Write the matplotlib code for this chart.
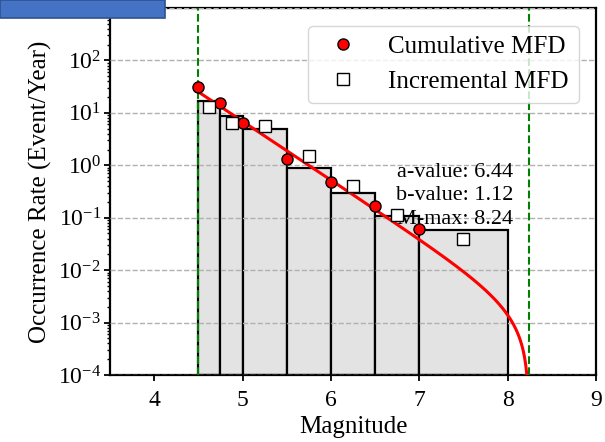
import numpy as np
import matplotlib
matplotlib.use('Agg')
import matplotlib.pyplot as plt
from matplotlib.patches import Rectangle

# ---- data ----
bin_edges = [4.5, 4.75, 5.0, 5.5, 6.0, 6.5, 7.0, 8.0]
bar_rates = [17.2, 8.9, 4.9, 0.88, 0.29, 0.109, 0.058]

cum_mag = [4.5, 4.75, 5.0, 5.5, 6.0, 6.5, 7.0]
cum_rate = [31.0, 15.3, 6.35, 1.34, 0.47, 0.167, 0.060]

inc_mag = [4.625, 4.875, 5.25, 5.75, 6.25, 6.75, 7.5]
inc_rate = [12.9, 6.5, 5.5, 1.53, 0.41, 0.112, 0.040]

a_value = 6.44
b_value = 1.12
m_min = 4.5
m_max = 8.24

x_ticks = [4, 5, 6, 7, 8, 9]

# ---- style ----
plt.rcParams['font.family'] = ['Liberation Serif', 'DejaVu Serif']
plt.rcParams['mathtext.fontset'] = 'custom'
plt.rcParams['mathtext.rm'] = 'Liberation Serif'
plt.rcParams['mathtext.it'] = 'Liberation Serif:italic'

fig = plt.figure(figsize=(6.05, 4.42), dpi=100)
ax = fig.add_axes([110/605, 1 - 375/442, 486/605, 367/442])

# incremental bars
lefts = bin_edges[:-1]
widths = [bin_edges[i + 1] - bin_edges[i] for i in range(len(lefts))]
ax.bar(lefts, bar_rates, width=widths, align='edge', bottom=1e-4,
       color='#e3e3e3', edgecolor='black', linewidth=1.6, zorder=1)

# truncated Gutenberg-Richter curve from the displayed parameters
m = np.linspace(m_min, m_max, 600)[:-1]
n_fit = 10 ** (a_value - b_value * m) - 10 ** (a_value - b_value * m_max)
ax.plot(m, n_fit, color='red', linewidth=2.2, zorder=3)

# bounds
ax.axvline(m_min, color='green', linestyle='--', linewidth=1.5, zorder=2.6)
ax.axvline(m_max, color='green', linestyle='--', linewidth=1.5, zorder=2.6)

ax.plot(cum_mag, cum_rate, 'o', color='red', markeredgecolor='black',
        markersize=8, markeredgewidth=1.0, linestyle='none',
        label='Cumulative MFD', zorder=5)
ax.plot(inc_mag, inc_rate, 's', color='white', markeredgecolor='black',
        markersize=9, markeredgewidth=1.0, linestyle='none',
        label='Incremental MFD', zorder=5)

ax.set_yscale('log')
ax.set_ylim(1e-4, 1e3)
ax.set_xlim(3.5, 9)
ax.set_xticks(x_ticks)

ax.set_axisbelow(False)
ax.yaxis.grid(True, which='major', linestyle='--', color='#b0b0b0', linewidth=1.0)
ax.xaxis.grid(False)

for sp in ax.spines.values():
    sp.set_linewidth(1.6)
ax.tick_params(axis='both', which='major', labelsize=17, width=1.3, length=4)
ax.tick_params(axis='x', which='major', pad=6.5)
ax.tick_params(axis='y', which='major', pad=2.5)
ax.tick_params(axis='y', which='minor', width=1.0, length=2.5)

ax.set_xlabel('Magnitude', fontsize=18, labelpad=4)
ax.set_ylabel('Occurrence Rate (Event/Year)', fontsize=18, labelpad=4)

ax.text(0.829, 0.488,
        f'a-value: {a_value:.2f}\nb-value: {b_value:.2f}\nM-max: {m_max:.2f}',
        transform=ax.transAxes, ha='right', va='center', fontsize=16,
        linespacing=1.3, zorder=4)

ax.legend(loc='upper right', fontsize=18, framealpha=0.8, borderaxespad=0.7)

# blue overlay box at top-left
fig.patches.append(Rectangle((0, 1 - 18/442), 165/605, 18/442,
                             transform=fig.transFigure, facecolor='#4472C4',
                             edgecolor='#2F528F', linewidth=1.2, zorder=10))

fig.savefig('out.png', dpi=100)
